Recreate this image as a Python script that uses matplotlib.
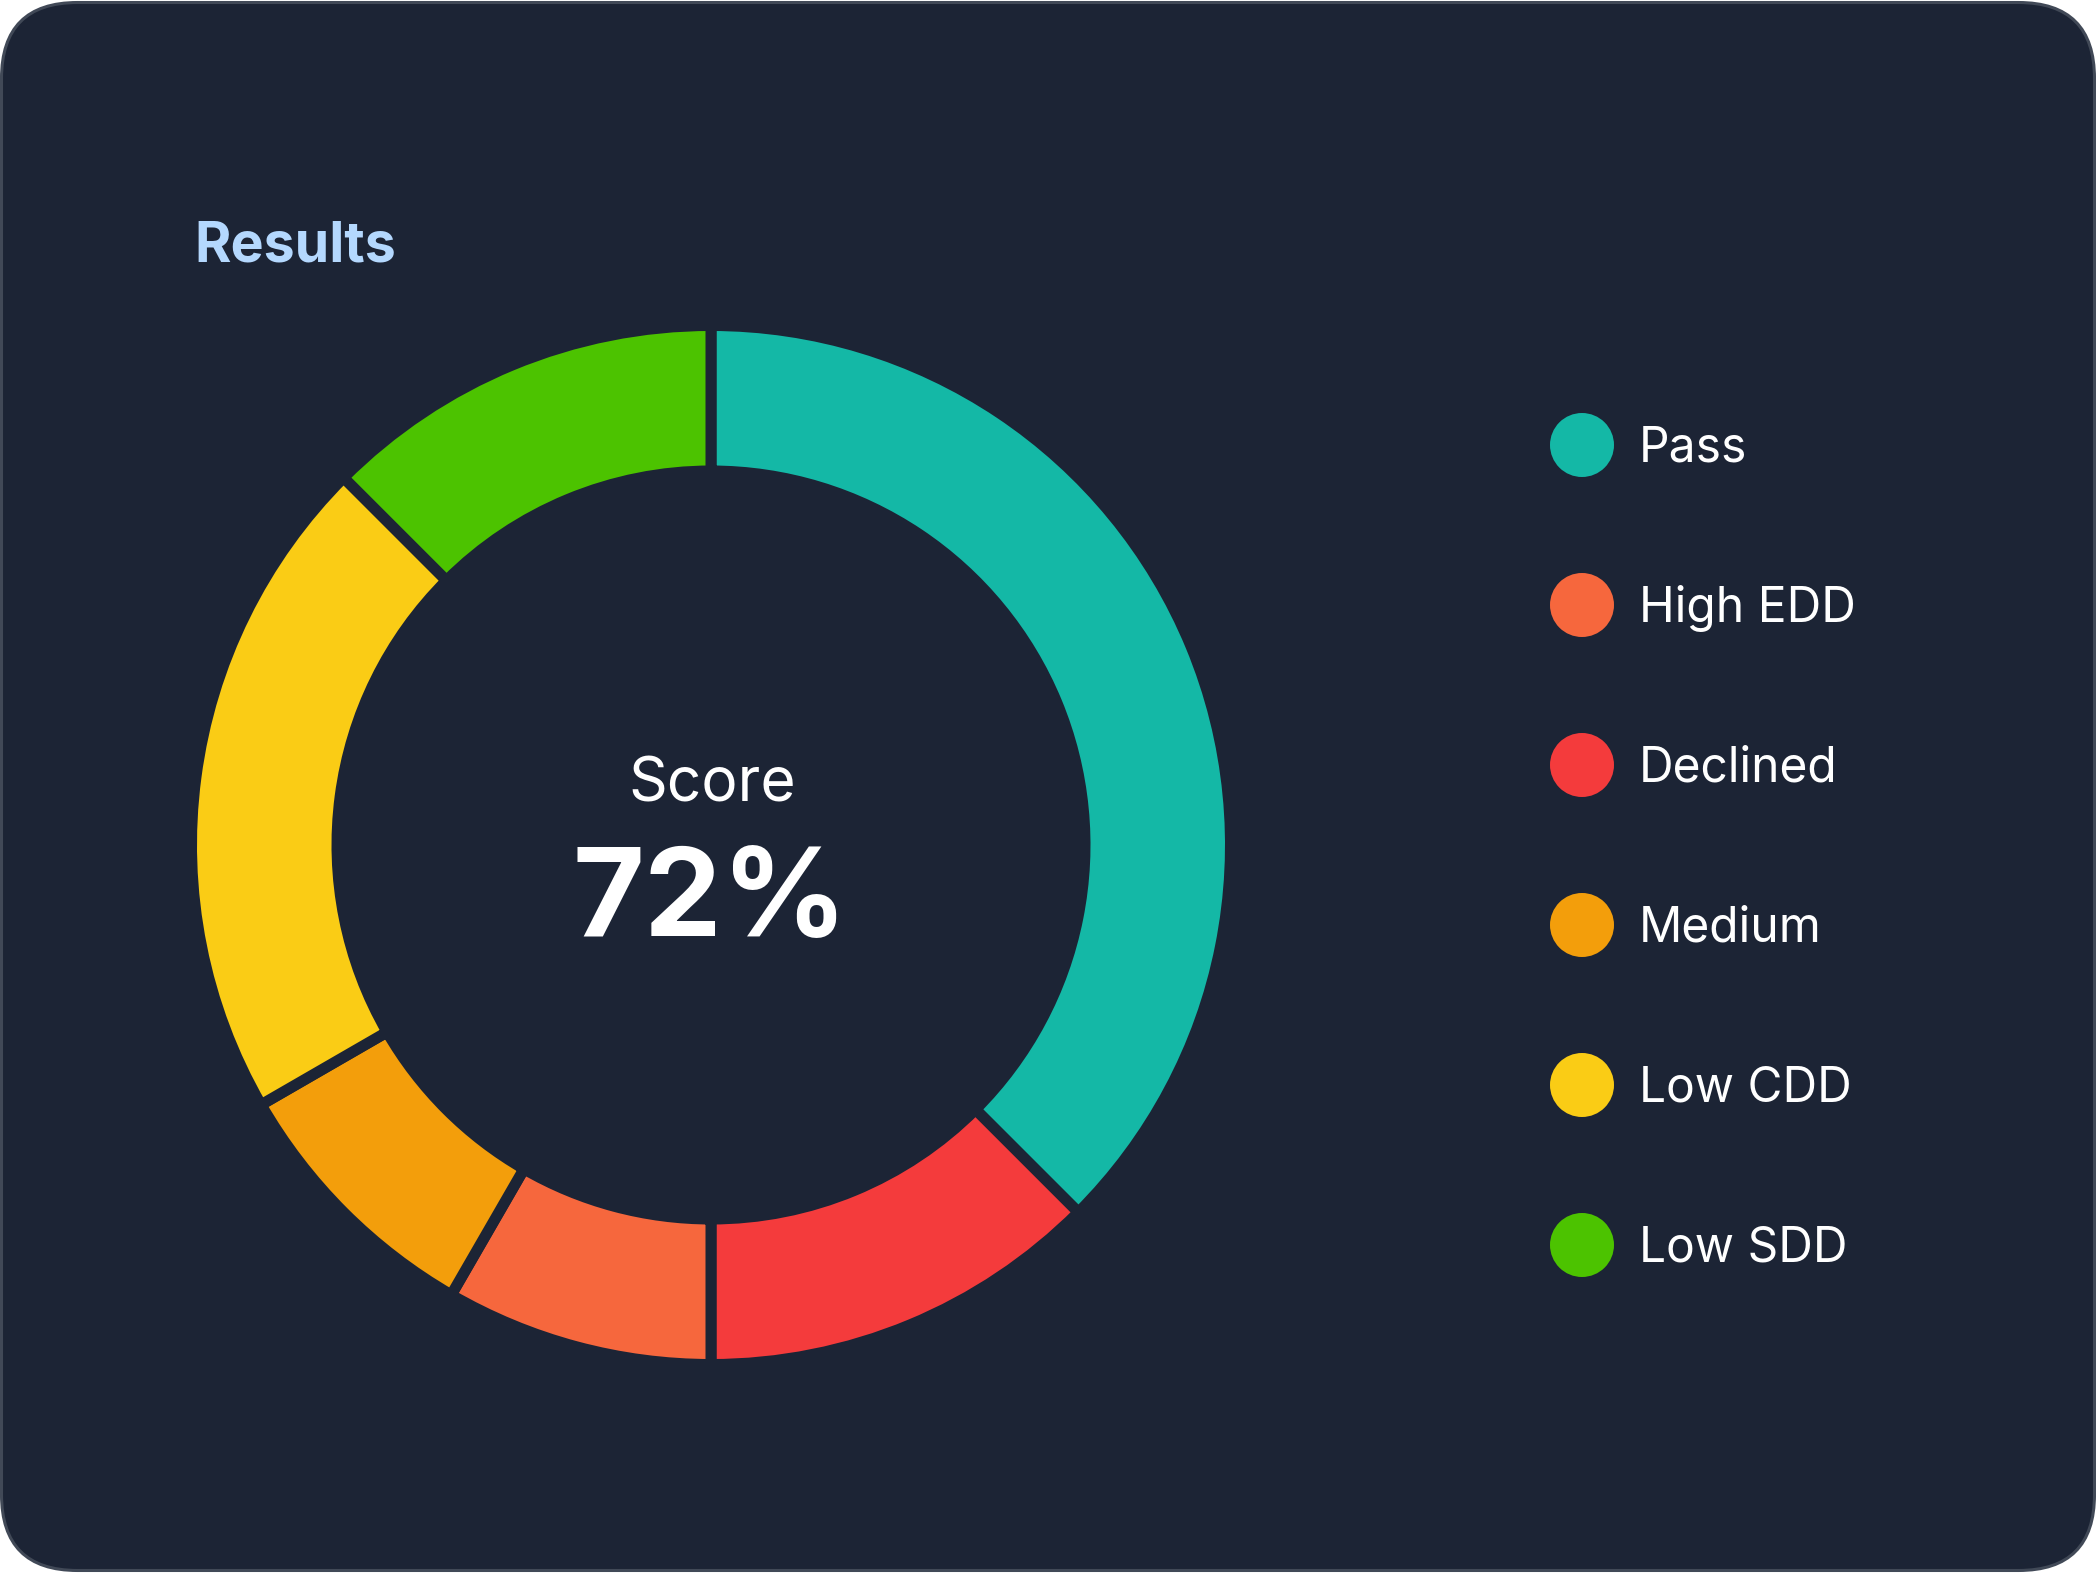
import matplotlib
matplotlib.use("Agg")
import matplotlib.pyplot as plt
from matplotlib.patches import FancyBboxPatch, Circle

# ---- data ----
ring_labels = ["Pass", "Declined", "High EDD", "Medium", "Low CDD", "Low SDD"]
ring_values = [9, 3, 2, 2, 5, 3]
legend_labels = ["Pass", "High EDD", "Declined", "Medium", "Low CDD", "Low SDD"]
colors = {
    "Pass": "#14b8a6",
    "High EDD": "#f6673d",
    "Declined": "#f43b3c",
    "Medium": "#f39e0b",
    "Low CDD": "#facc15",
    "Low SDD": "#4cc300",
}
title = "Results"
center_label = "Score"
center_value = "72%"

BG = "#1c2435"
W, H = 2096, 1573
DPI = 100

plt.rcParams['font.family'] = ['Inter', 'DejaVu Sans']

fig = plt.figure(figsize=(W / DPI, H / DPI), dpi=DPI, facecolor="white")
ax = fig.add_axes([0, 0, 1, 1])
ax.set_xlim(0, W)
ax.set_ylim(0, H)
ax.set_aspect("equal")
ax.axis("off")

def Y(py):
    return H - py

# card
R = 76
card = FancyBboxPatch((1.5 + R, 2.5 + R), W - 3 - 2 * R, H - 5 - 2 * R,
                      boxstyle="round,pad=%d" % R, facecolor=BG,
                      edgecolor="#414957", linewidth=2.2, zorder=1)
ax.add_patch(card)

# donut
gap_px = 11
lw_pt = gap_px * 72 / DPI
r_out = 514 + gap_px / 2
r_in = 379.5 - gap_px / 2
cx, cy = 711, Y(845)
ax.pie(ring_values, colors=[colors[l] for l in ring_labels], startangle=90,
       counterclock=False, radius=r_out, center=(cx, cy),
       wedgeprops=dict(width=r_out - r_in, edgecolor=BG, linewidth=lw_pt,
                       joinstyle="miter"),
       frame=True)
ax.set_xlim(0, W)
ax.set_ylim(0, H)
ax.axis("off")

# title
ax.text(194, Y(262), title, color="#b4d8fe", fontsize=40, fontweight="bold",
        ha="left", va="baseline", zorder=5)

# center text
ax.text(712, Y(802), center_label, color="white", fontsize=43.5,
        fontweight="normal", ha="center", va="baseline", zorder=5)
ax.text(710, Y(936), center_value, color="white", fontsize=89,
        fontweight="bold", ha="center", va="baseline", zorder=5)

# legend
for i, lab in enumerate(legend_labels):
    yc = 445 + 160 * i
    ax.add_patch(Circle((1582, Y(yc)), 32, facecolor=colors[lab],
                        edgecolor="none", zorder=5))
    ax.text(1639, Y(yc + 17), lab, color="white", fontsize=34.5,
            fontweight="normal", ha="left", va="baseline", zorder=5)

fig.savefig("out.png", dpi=DPI, facecolor="white")
